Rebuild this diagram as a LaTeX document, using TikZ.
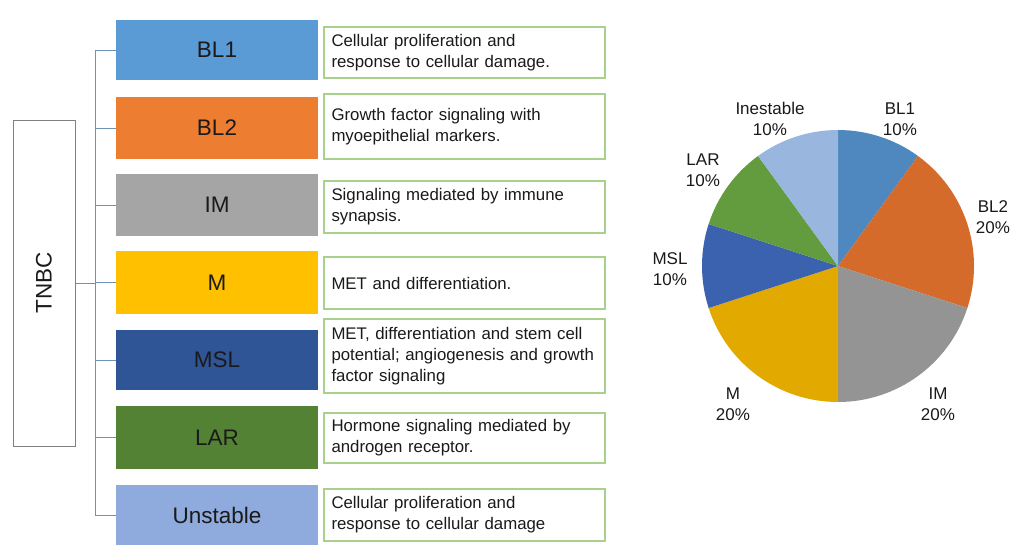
\documentclass[tikz,border=0pt]{standalone}
\usepackage{fontspec}
\setmainfont{Liberation Sans}
\definecolor{bBLa}{HTML}{5B9BD5}\definecolor{pBLa}{HTML}{4F87BF}
\definecolor{bBLb}{HTML}{ED7D31}\definecolor{pBLb}{HTML}{D46B2B}
\definecolor{bIM}{HTML}{A5A5A5}\definecolor{pIM}{HTML}{949494}
\definecolor{bM}{HTML}{FFC000}\definecolor{pM}{HTML}{E2A900}
\definecolor{bMSL}{HTML}{2F5597}\definecolor{pMSL}{HTML}{3B62AE}
\definecolor{bLAR}{HTML}{548235}\definecolor{pLAR}{HTML}{629C3F}
\definecolor{bUN}{HTML}{8FAADC}\definecolor{pUN}{HTML}{98B6DE}
\definecolor{descline}{HTML}{A9D18E}
\definecolor{conn}{HTML}{6F93B8}
\definecolor{tnbcline}{HTML}{808080}
\definecolor{txt}{HTML}{1A1A1A}
\begin{document}
\begin{tikzpicture}[x=1pt,y=-1pt,
  subbox/.style={minimum width=202pt, inner sep=0pt, text=txt, font=\fontsize{22.5}{25}\selectfont},
  desc/.style={draw=descline, line width=1.1pt, minimum width=281pt, text width=266pt, inner xsep=7.5pt, inner ysep=0pt, align=left, text=txt, font=\fontsize{16.8}{20.8}\selectfont},
  conline/.style={draw=conn, line width=1pt},
  plabel/.style={align=center, text=txt, font=\fontsize{17}{21.5}\selectfont}]
\useasboundingbox[fill=white] (0,0) rectangle (1026,550);
% TNBC
\node[draw=tnbcline, line width=1pt, minimum width=62pt, minimum height=326pt, inner sep=0pt] (tnbc) at (44,283) {};
\node[rotate=90, text=txt, font=\fontsize{22.5}{25}\selectfont] (tnbct) at (tnbc.center) {TNBC};
% subtype boxes
\node[subbox, fill=bBLa, minimum height=60pt] (bl1) at (217,50) {BL1};
\node[subbox, fill=bBLb, minimum height=62pt] (bl2) at (217,128) {BL2};
\node[subbox, fill=bIM, minimum height=62pt] (im) at (217,205) {IM};
\node[subbox, fill=bM, minimum height=63pt] (m) at (217,282.5) {M};
\node[subbox, fill=bMSL, minimum height=60pt] (msl) at (217,360) {MSL};
\node[subbox, fill=bLAR, minimum height=63pt] (lar) at (217,437.5) {LAR};
\node[subbox, fill=bUN, minimum height=60pt] (un) at (217,515) {Unstable};
% descriptions
\node[desc, minimum height=51pt] (d1) at (464.5,52.5) {Cellular proliferation and\\response to cellular damage.};
\node[desc, minimum height=65pt] (d2) at (464.5,126.5) {Growth factor signaling with\\myoepithelial markers.};
\node[desc, minimum height=52pt] (d3) at (464.5,207) {Signaling mediated by immune\\synapsis.};
\node[desc, minimum height=52pt] (d4) at (464.5,283) {MET and differentiation.};
\node[desc, minimum height=74pt] (d5) at (464.5,356) {MET, differentiation and stem cell\\potential; angiogenesis and growth\\factor signaling};
\node[desc, minimum height=50pt] (d6) at (464.5,438) {Hormone signaling mediated by\\androgen receptor.};
\node[desc, minimum height=52pt] (d7) at (464.5,515) {Cellular proliferation and\\response to cellular damage};
% connectors
\coordinate (tr) at (95,0);
\draw[conline] (tnbc.east) -- (tnbc.east -| tr);
\draw[conline] (bl1.west -| tr) -- (un.west -| tr);
\foreach \n in {bl1,bl2,im,m,msl,lar,un} \draw[conline] (\n.west -| tr) -- (\n.west);
% pie
\begin{scope}[shift={(838,266)}, yscale=-1]
\def\r{136}
\fill[pBLa] (0,0) -- (90:\r) arc (90:54:\r) -- cycle;
\fill[pBLb] (0,0) -- (54:\r) arc (54:-18:\r) -- cycle;
\fill[pIM] (0,0) -- (-18:\r) arc (-18:-90:\r) -- cycle;
\fill[pM] (0,0) -- (-90:\r) arc (-90:-162:\r) -- cycle;
\fill[pMSL] (0,0) -- (-162:\r) arc (-162:-198:\r) -- cycle;
\fill[pLAR] (0,0) -- (162:\r) arc (162:126:\r) -- cycle;
\fill[pUN] (0,0) -- (126:\r) arc (126:90:\r) -- cycle;
\end{scope}
\node[plabel] (lin) at (770,119) {Inestable\\10\%};
\node[plabel] (lbl1) at (900,119) {BL1\\10\%};
\node[plabel] (lbl2) at (993,217) {BL2\\20\%};
\node[plabel] (lim) at (938,404) {IM\\20\%};
\node[plabel] (lm) at (733,404) {M\\20\%};
\node[plabel] (lmsl) at (670,269) {MSL\\10\%};
\node[plabel] (llar) at (703,170) {LAR\\10\%};
\end{tikzpicture}
\end{document}
